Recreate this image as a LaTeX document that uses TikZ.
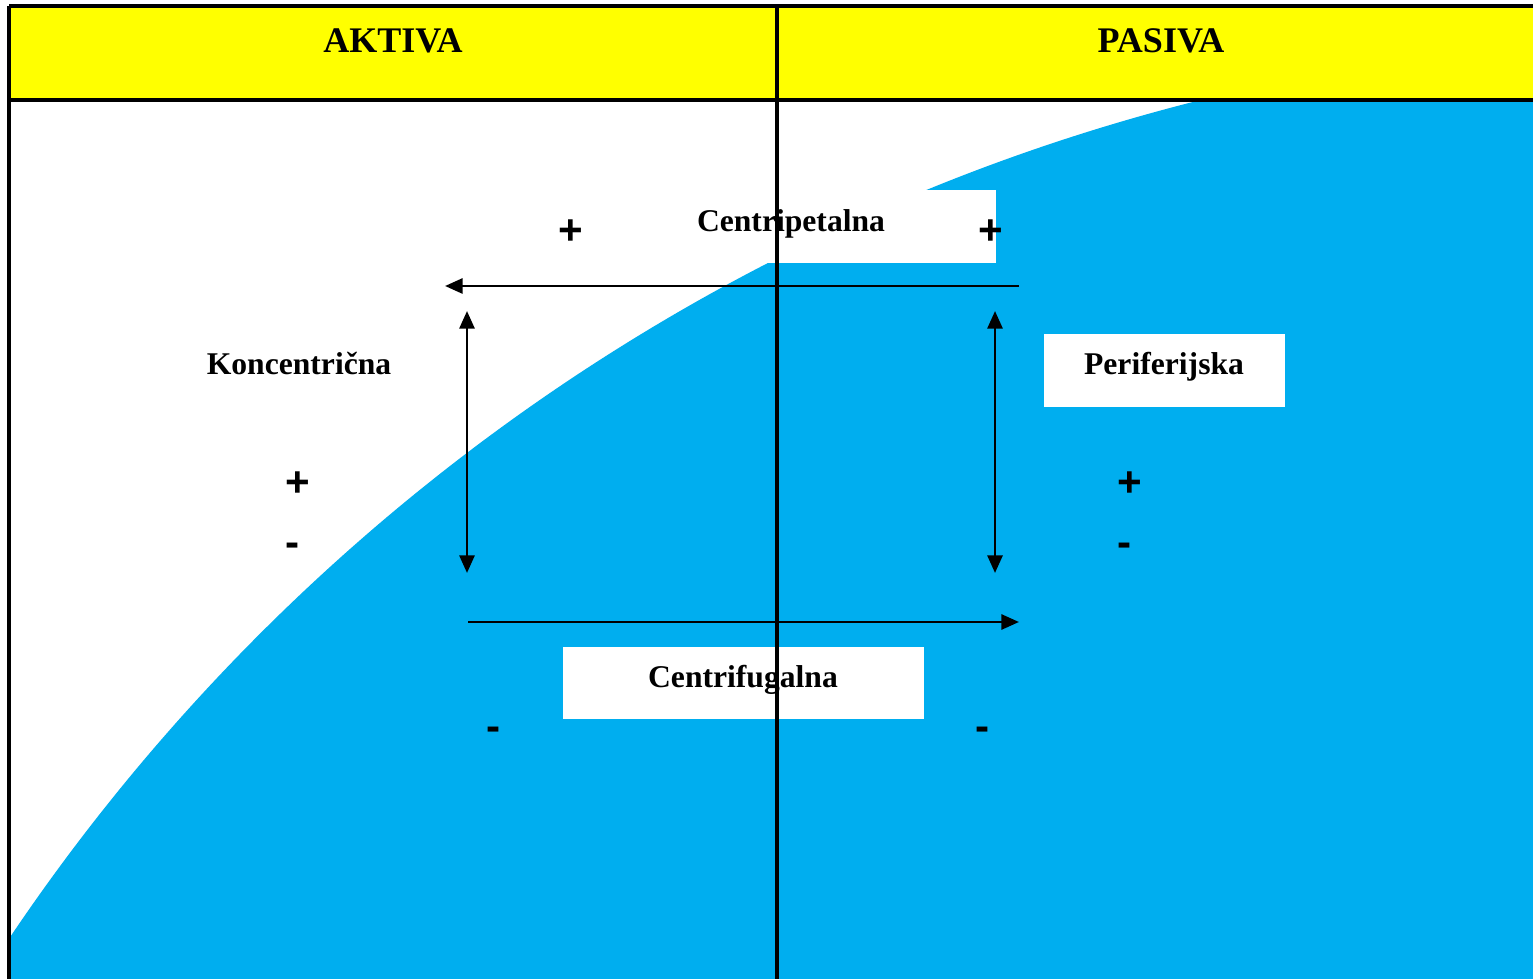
\documentclass[tikz,border=0pt]{standalone}
\usepackage{fontspec}
\setmainfont{Liberation Serif}
\newfontfamily\signfont{Liberation Sans}
\usetikzlibrary{arrows.meta}
\definecolor{hdryellow}{RGB}{255,255,0}
\definecolor{areablue}{RGB}{0,174,239}
\tikzset{
  lbl/.style={font=\fontsize{18}{20}\selectfont\bfseries, anchor=base, inner sep=0pt},
  hdr/.style={font=\fontsize{20.5}{22}\selectfont\bfseries, anchor=base, inner sep=0pt},
  sgn/.style={font=\signfont\fontsize{24}{26}\selectfont\bfseries, inner sep=0pt},
  whitebox/.style={fill=white, draw=none},
  flow/.style={line width=1.6pt, -{Triangle[length=10pt,width=8.5pt]}},
  dflow/.style={line width=1.6pt, {Triangle[length=10pt,width=8.5pt]}-{Triangle[length=10pt,width=8.5pt]}},
  rule/.style={line width=1.8pt}
}
\begin{document}
\begin{tikzpicture}[x=0.02cm,y=-0.02cm]
\useasboundingbox (0,0) rectangle (1533,979);
\fill[white] (0,0) rectangle (1533,979);
% header band
\fill[hdryellow] (9,6) rectangle (1533,100);
% blue area
\begin{scope}
  \clip (9,101) rectangle (1533,979);
  \fill[areablue] (1695,2069) circle[radius=40.6cm];
\end{scope}
% white label boxes
\fill[whitebox] (586,190) rectangle (996,263);
\fill[whitebox] (1044,334) rectangle (1285,407);
\fill[whitebox] (563,647) rectangle (924,719);
% header texts
\node[hdr] (aktiva) at (393,53) {AKTIVA};
\node[hdr] (pasiva) at (1161,53) {PASIVA};
% labels
\node[lbl] (centripetalna) at (791,232) {Centripetalna};
\node[lbl] (koncentricna) at (299,375) {Koncentrična};
\node[lbl] (periferijska) at (1164,375) {Periferijska};
\node[lbl] (centrifugalna) at (743,687) {Centrifugalna};
% signs
\node[sgn] (p1) at (571,232) {+};
\node[sgn] (p2) at (991,232) {+};
\node[sgn] (p3) at (298,484) {+};
\node[sgn] (p4) at (1130,484) {+};
\node[sgn] (m1) at (293,550) {-};
\node[sgn] (m2) at (1125,550) {-};
\node[sgn] (m3) at (494,734) {-};
\node[sgn] (m4) at (983,734) {-};
% arrow end points
\coordinate (tR) at (1019,286);
\coordinate (tL) at (445,286);
\coordinate (bL) at (468,622);
\coordinate (bR) at (1019,622);
\coordinate (lT) at (467,311);
\coordinate (lB) at (467,573);
\coordinate (rT) at (995,311);
\coordinate (rB) at (995,573);
\draw[flow] (tR) -- (tL);
\draw[flow] (bL) -- (bR);
\draw[dflow] (lT) -- (lB);
\draw[dflow] (rT) -- (rB);
% table rules
\coordinate (tl) at (9,6);
\coordinate (tr) at (1533,6);
\coordinate (bl) at (9,979);
\coordinate (ml) at (9,100);
\coordinate (mr) at (1533,100);
\coordinate (ct) at (777,6);
\coordinate (cb) at (777,979);
\draw[rule] (tl) -- (tr);
\draw[rule] (tl) -- (bl);
\draw[line width=2.2pt] (ml) -- (mr);
\draw[rule] (ct) -- (cb);
\end{tikzpicture}
\end{document}
